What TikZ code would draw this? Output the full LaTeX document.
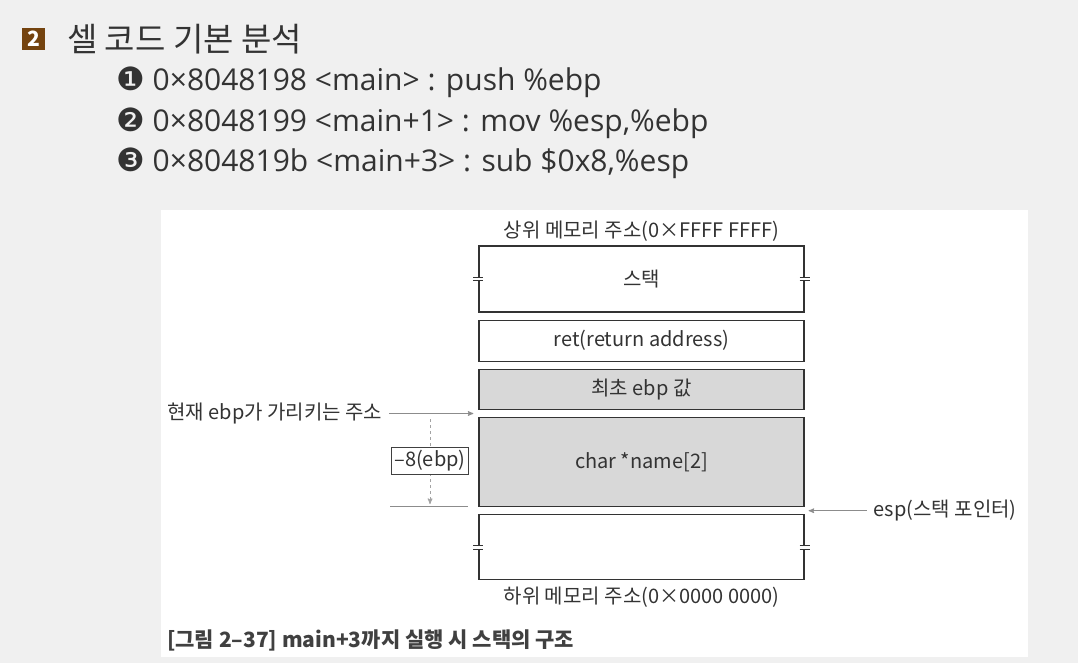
\documentclass[tikz,border=0pt]{standalone}
\usepackage{fontspec}
\setmainfont{Noto Sans CJK KR}
\newfontfamily\dingfont{DejaVu Sans}
\newfontfamily\codefont{Open Sans}
\usetikzlibrary{arrows, positioning, calc}

\definecolor{pagebg}{HTML}{F0F0F0}
\definecolor{boxgray}{HTML}{D8D8D8}
\definecolor{txt}{HTML}{333333}
\definecolor{ptrgray}{HTML}{8C8C8C}
\definecolor{brown}{HTML}{74430F}

\begin{document}
\begin{tikzpicture}[x=1pt,y=-1pt,>=stealth',node distance=7pt,
  slot/.style={draw=black!80,line width=1.2pt,minimum width=325pt,inner sep=0pt,
    fill=white,text=txt,font=\fontsize{20}{24}\selectfont},
  filled/.style={slot,fill=boxgray},
  lbl/.style={text=txt,inner sep=1pt,font=\fontsize{20}{24}\selectfont},
  ptr/.style={->,draw=ptrgray,line width=1pt},
  code/.style={anchor=west,text=txt,inner sep=0pt,font=\fontsize{30}{34}\codefont}]

% page and panel
\fill[pagebg] (0,0) rectangle (1078,663);
\fill[white] (161,210) rectangle (1028,657);
\useasboundingbox (0,0) rectangle (1078,663);

% heading
\node[fill=brown,text=white,minimum width=23pt,minimum height=22pt,inner sep=0pt,
  font=\fontsize{21}{24}\selectfont\bfseries] (num) at (33.5,39) {2};
\node[anchor=west,text=txt,inner sep=0pt,font=\fontsize{33}{38}\selectfont] (title) at (67,39) {셀 코드 기본 분석};
\node[code] (c1) at (116,82)  {{\fontsize{32}{34}\dingfont ❶} 0×8048198 <main> : push \%ebp};
\node[code] (c2) at (116,123) {{\fontsize{32}{34}\dingfont ❷} 0×8048199 <main+1> : mov \%esp,\%ebp};
\node[code] (c3) at (116,163) {{\fontsize{32}{34}\dingfont ❸} 0×804819b <main+3> : sub \$0x8,\%esp};

% stack
\node[slot,minimum height=66pt] (stack) at (641.5,279) {스택};
\node[slot,minimum height=41pt,below=of stack] (ret) {ret(return address)};
\node[filled,minimum height=40pt,below=of ret] (oldebp) {최초 ebp 값};
\node[filled,minimum height=89pt,below=of oldebp] (name) {char *name[2]};
\node[slot,minimum height=65pt,below=of name] (low) {};

\node[lbl,above=3pt of stack] (hi) {상위 메모리 주소(0×FFFF FFFF)};
\node[lbl,below=5pt of low] (lo) {하위 메모리 주소(0×0000 0000)};

% break marks
\foreach \n in {stack,low}
  \foreach \s in {west,east} {
    \draw[white,line width=2.5pt] ([yshift=2pt]\n.\s) -- ([yshift=-2pt]\n.\s);
    \draw[black!80,line width=1pt] ([xshift=-5pt,yshift=1.8pt]\n.\s) -- ([xshift=5pt,yshift=1.8pt]\n.\s)
      ([xshift=-5pt,yshift=-1.8pt]\n.\s) -- ([xshift=5pt,yshift=-1.8pt]\n.\s);
  }

% ebp
\coordinate (ebpat) at ($(oldebp.south west)!0.5!(name.north west)+(-5,0)$);
\node[lbl,left=90pt of ebpat] (ebptxt) {현재 ebp가 가리키는 주소};
\draw[ptr,shorten <=6pt] (ebptxt.east) -- (ebpat);

\coordinate (top8) at (430,419);
\coordinate (bot8) at (430,504);
\draw[->,draw=ptrgray!80,line width=1pt,dashed] (top8) -- (bot8);
\node[lbl,draw=black!75,fill=white,line width=0.8pt,inner sep=3pt] (off) at (430,461) {–8(ebp)};
\coordinate (base1) at (390,506);
\coordinate (base2) at (468,506);
\draw[ptrgray,line width=1pt] (base1) -- (base2);

% esp
\coordinate (espat) at ($(name.south east)!0.5!(low.north east)+(4,0)$);
\node[lbl,right=64pt of espat] (esptxt) {esp(스택 포인터)};
\draw[ptr,shorten <=6pt] (esptxt.west) -- (espat);

% caption
\node[anchor=west,text=black!75,inner sep=0pt,font=\fontsize{21}{24}\selectfont\bfseries] (cap) at (167,640)
  {[그림 2–37] main+3까지 실행 시 스택의 구조};

\end{tikzpicture}
\end{document}
